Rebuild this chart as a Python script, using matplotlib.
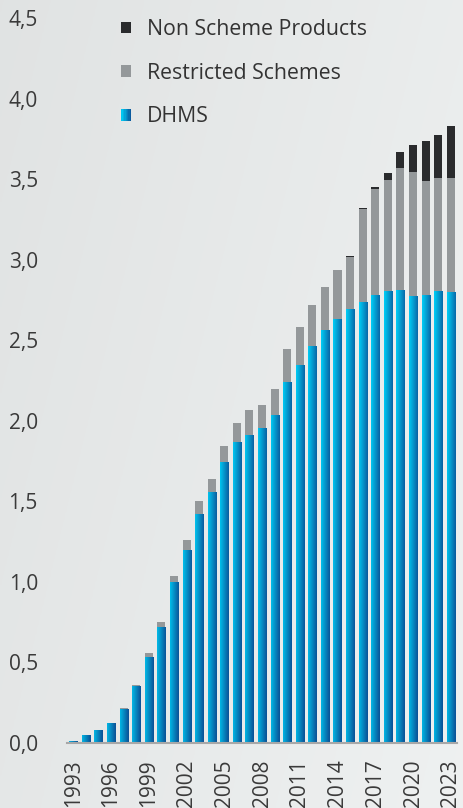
import matplotlib
matplotlib.use("Agg")
import matplotlib.pyplot as plt
from matplotlib.legend_handler import HandlerTuple
import numpy as np

# donnees (en millions)
years = list(range(1993, 2024))
dhms = [0.014, 0.050, 0.081, 0.124, 0.211, 0.354, 0.533, 0.720, 0.999, 1.197,
        1.421, 1.557, 1.743, 1.867, 1.911, 1.954, 2.035, 2.240, 2.345, 2.463,
        2.562, 2.630, 2.692, 2.736, 2.779, 2.804, 2.810, 2.773, 2.779, 2.804,
        2.798]
restricted = [0.0, 0.0, 0.0, 0.0, 0.006, 0.006, 0.025, 0.031, 0.037, 0.062,
              0.080, 0.081, 0.099, 0.118, 0.155, 0.143, 0.161, 0.204, 0.236, 0.254,
              0.267, 0.304, 0.323, 0.577, 0.658, 0.689, 0.757, 0.769, 0.707, 0.701,
              0.707]
non_scheme = [0.0] * 22 + [0.006, 0.006, 0.012, 0.043, 0.099, 0.168, 0.248, 0.267, 0.323]
tick_years = list(range(1993, 2024, 3))
yticks = [0.0, 0.5, 1.0, 1.5, 2.0, 2.5, 3.0, 3.5, 4.0, 4.5]

plt.rcParams['font.family'] = ['Open Sans', 'DejaVu Sans']

fig = plt.figure(figsize=(4.64, 8.08), dpi=100)

# fond en degrade gris clair
bg = fig.add_axes([0, 0, 1, 1])
gx, gy = np.meshgrid(np.linspace(0, 1, 200), np.linspace(0, 1, 200))
g = 0.88 + 0.055 * (0.7 * gx + 0.3 * gy)
bg.imshow(np.dstack([g, g + 0.01, g + 0.01]).clip(0, 1), extent=[0, 1, 0, 1],
          aspect='auto', origin='upper')
bg.axis('off')

ax = fig.add_axes([0.1444, 0.0804, 0.8406, 0.8973])
ax.patch.set_alpha(0)

x = np.arange(len(years))
w = 0.64
dhms = np.array(dhms)
restricted = np.array(restricted)
non_scheme = np.array(non_scheme)

bars = ax.bar(x, dhms, w, color='none', edgecolor='none')
ax.bar(x, restricted, w, bottom=dhms, color='#94989a', label='Restricted Schemes')
ax.bar(x, non_scheme, w, bottom=dhms + restricted, color='#2a2b2d', label='Non Scheme Products')

# degrade bleu dans chaque barre DHMS
light = np.array([0.0, 0.80, 0.96])
dark = np.array([0.04, 0.33, 0.60])


def blend(t):
    return light * (1 - t) + dark * t


for b in bars:
    h = b.get_height()
    if h <= 0:
        continue
    x0 = b.get_x()
    yy = np.linspace(h, 0, 60)[:, None]
    xx = np.linspace(0, 1, 30)[None, :]
    t = np.clip(0.85 * xx + 0.25 * (1 - yy / 3.0) - 0.05, 0, 1)
    img = light[None, None, :] * (1 - t[..., None]) + dark[None, None, :] * t[..., None]
    im = ax.imshow(img, extent=[x0, x0 + w, 0, h], aspect='auto', origin='upper', zorder=2)
    im.set_clip_path(b)

ax.set_xlim(-0.5, len(years) - 0.5)
ax.set_ylim(0, 4.5)
ax.set_yticks(yticks)
ax.set_yticklabels([f"{v:.1f}".replace('.', ',') for v in yticks])
ax.set_xticks([years.index(yr) for yr in tick_years])
ax.set_xticklabels([str(yr) for yr in tick_years], rotation=90, va='top')
ax.tick_params(axis='both', length=0, labelsize=15, colors='#3a3a3a')
ax.tick_params(axis='y', pad=21)
ax.tick_params(axis='x', pad=12)
for s in ['top', 'right', 'left']:
    ax.spines[s].set_visible(False)
ax.spines['bottom'].set_color('#a8a8a8')
ax.spines['bottom'].set_linewidth(1.5)
ax.spines['bottom'].set_zorder(5)

# legende : carre DHMS en degrade
handles, labels = ax.get_legend_handles_labels()
grad = tuple(plt.Rectangle((0, 0), 1, 1, color=blend(t), lw=0) for t in np.linspace(0.05, 0.95, 7))
leg = ax.legend(handles[::-1] + [grad], labels[::-1] + ['DHMS'], loc='upper left',
                bbox_to_anchor=(0.090, 1.025), frameon=False, fontsize=15.3,
                handlelength=0.47, handleheight=0.47, handletextpad=0.75,
                labelspacing=1.07, labelcolor='#333333',
                handler_map={tuple: HandlerTuple(ndivide=None, pad=0)})

fig.savefig('out.png', dpi=100)
